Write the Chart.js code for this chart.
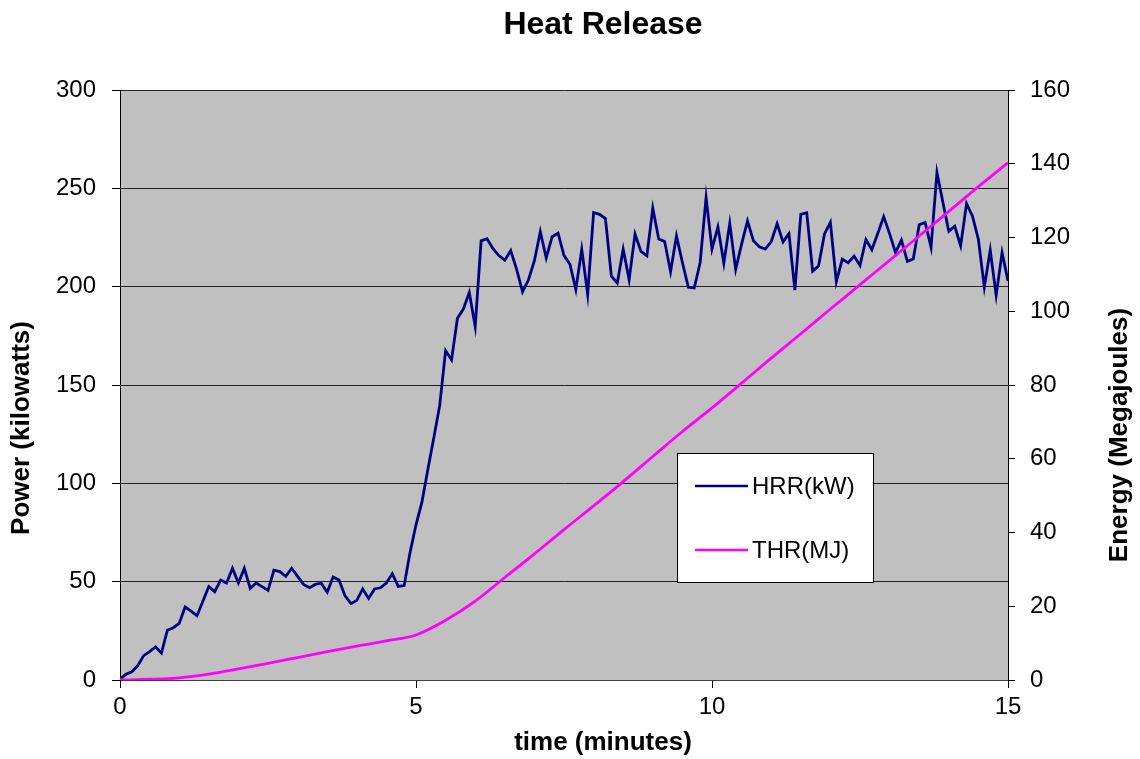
<!DOCTYPE html>
<html>
<head>
<meta charset="utf-8">
<title>Heat Release</title>
<script src="https://cdn.jsdelivr.net/npm/chart.js@4.4.0/dist/chart.umd.min.js"></script>
<style>
    html, body { margin: 0; padding: 0; background: #ffffff; }
    #wrap { width: 1140px; height: 759px; }
</style>
</head>
<body>
<div id="wrap"><canvas id="heatChart" width="1140" height="759"></canvas></div>
<script>
// Datos (tiempo en minutos)
const tiempoHRR = [
    0, 0.1, 0.2, 0.3, 0.4, 0.5, 0.6, 0.7, 0.8, 0.9,
    1, 1.1, 1.2, 1.3, 1.4, 1.5, 1.6, 1.7, 1.8, 1.9,
    2, 2.1, 2.2, 2.3, 2.4, 2.5, 2.6, 2.7, 2.8, 2.9,
    3, 3.1, 3.2, 3.3, 3.4, 3.5, 3.6, 3.7, 3.8, 3.9,
    4, 4.1, 4.2, 4.3, 4.4, 4.5, 4.6, 4.7, 4.8, 4.9,
    5, 5.1, 5.2, 5.3, 5.4, 5.5, 5.6, 5.7, 5.8, 5.9,
    6, 6.1, 6.2, 6.3, 6.4, 6.5, 6.6, 6.7, 6.8, 6.9,
    7, 7.1, 7.2, 7.3, 7.4, 7.5, 7.6, 7.7, 7.8, 7.9,
    8, 8.1, 8.2, 8.3, 8.4, 8.5, 8.6, 8.7, 8.8, 8.9,
    9, 9.1, 9.2, 9.3, 9.4, 9.5, 9.6, 9.7, 9.8, 9.9,
    10, 10.1, 10.2, 10.3, 10.4, 10.5, 10.6, 10.7, 10.8, 10.9,
    11, 11.1, 11.2, 11.3, 11.4, 11.5, 11.6, 11.7, 11.8, 11.9,
    12, 12.1, 12.2, 12.3, 12.4, 12.5, 12.6, 12.7, 12.8, 12.9,
    13, 13.1, 13.2, 13.3, 13.4, 13.5, 13.6, 13.7, 13.8, 13.9,
    14, 14.1, 14.2, 14.3, 14.4, 14.5, 14.6, 14.7, 14.8, 14.9,
    15
];

const hrrKW = [
    0.5, 2.9, 4.2, 7.3, 12.4, 14.4, 16.8, 13.7, 25.3, 26.6,
    28.8, 37.1, 35.0, 32.7, 40.0, 47.5, 44.9, 50.8, 49.3, 56.8,
    49.3, 56.8, 46.6, 49.3, 47.5, 45.6, 55.8, 55.1, 52.7, 56.8,
    52.7, 48.6, 46.9, 48.6, 49.2, 44.6, 52.4, 50.8, 42.9, 38.8,
    40.5, 46.3, 41.5, 46.3, 46.9, 49.3, 54.1, 47.6, 48.0, 64.9,
    78.9, 90.4, 107, 123, 139.5, 167.5, 162.8, 183.9, 188.6, 197,
    179.8, 223.3, 224.4, 219.3, 215.8, 213.5, 218.4, 208.8, 197.4, 203.5,
    213.2, 228, 214.6, 225.4, 227.2, 215.8, 211.4, 198.6, 219, 196.1,
    237.7, 236.8, 234.6, 205.3, 201.8, 219, 203.5, 226.7, 217.9, 215.7,
    239.9, 224.2, 223, 207.6, 225.8, 212.3, 199.7, 199.3, 212.3, 245.3,
    219.1, 230.4, 212, 232.2, 208.8, 221.6, 233.4, 223.3, 220.3, 219.1,
    222.9, 232, 222.8, 227, 198.2, 236.8, 237.6, 207.9, 210.5, 226.8,
    232.7, 202.5, 214, 212.2, 215.6, 210.8, 224, 218.8, 227, 235.6,
    227, 217.3, 223.7, 212.9, 214.1, 231.5, 232.7, 220, 258.1, 242.9,
    228.1, 230.7, 220.8, 242.2, 235.8, 224, 199.8, 218.5, 195.6, 217.3,
    202.9
];

const tiempoTHR = [
    0, 0.5, 1, 1.5, 2, 2.5, 3, 3.5, 4, 4.5,
    5, 5.5, 6, 6.5, 7, 7.5, 8, 8.5, 9, 9.5,
    10, 10.5, 11, 11.5, 12, 12.5, 13, 13.5, 14, 14.5,
    15
];

const thrMJ = [
    0, 0.2, 0.6, 1.6, 3.0, 4.5, 6.1, 7.7, 9.2, 10.6,
    12.2, 16.2, 21.4, 27.8, 34.2, 40.8, 47.2, 53.8, 60.6, 67.4,
    73.8, 80.5, 87.3, 93.9, 100.6, 107.2, 113.8, 120.4, 127.1, 133.8,
    140.3
];

const ticksTiempo = [0, 5, 10, 15];
const ticksPotencia = [0, 50, 100, 150, 200, 250, 300];
const ticksEnergia = [0, 20, 40, 60, 80, 100, 120, 140, 160];

const FUENTE = "'Liberation Sans', Arial, sans-serif";

// Fondo gris del área de trazado
const fondoGris = {
    id: 'fondoGris',
    beforeDraw(chart) {
        const { ctx, chartArea: a } = chart;
        ctx.save();
        ctx.fillStyle = '#c0c0c0';
        ctx.fillRect(a.left, a.top, a.right - a.left, a.bottom - a.top);
        ctx.restore();
    }
};

// Títulos y leyenda dibujados como en la hoja original
const textos = {
    id: 'textos',
    afterDraw(chart) {
        const ctx = chart.ctx;
        ctx.save();
        ctx.fillStyle = '#000';
        ctx.textAlign = 'center';
        ctx.textBaseline = 'middle';

        ctx.font = 'bold 32px ' + FUENTE;
        ctx.fillText('Heat Release', 603, 25);

        ctx.font = 'bold 26px ' + FUENTE;
        ctx.fillText('time (minutes)', 603, 743);

        ctx.save();
        ctx.translate(22, 428);
        ctx.rotate(-Math.PI / 2);
        ctx.fillText('Power (kilowatts)', 0, 0);
        ctx.restore();

        ctx.save();
        ctx.translate(1120, 435);
        ctx.rotate(-Math.PI / 2);
        ctx.fillText('Energy (Megajoules)', 0, 0);
        ctx.restore();

        // Leyenda
        const caja = { x: 677, y: 453, w: 196, h: 129 };
        ctx.fillStyle = '#fff';
        ctx.fillRect(caja.x, caja.y, caja.w, caja.h);
        ctx.strokeStyle = '#000';
        ctx.lineWidth = 1;
        ctx.strokeRect(caja.x + 0.5, caja.y + 0.5, caja.w, caja.h);

        ctx.font = '24px ' + FUENTE;
        ctx.textAlign = 'left';
        chart.data.datasets.forEach((ds, i) => {
            const yy = caja.y + 33 + i * 64;
            ctx.strokeStyle = ds.borderColor;
            ctx.lineWidth = 2.5;
            ctx.beginPath();
            ctx.moveTo(caja.x + 18, yy);
            ctx.lineTo(caja.x + 71, yy);
            ctx.stroke();
            ctx.fillStyle = '#000';
            ctx.fillText(ds.label, caja.x + 75, yy + 1);
        });
        ctx.restore();
    }
};

const ctx = document.getElementById('heatChart');

new Chart(ctx, {
    type: 'line',
    data: {
        datasets: [{
            label: 'HRR(kW)',
            data: tiempoHRR.map((t, i) => ({ x: t, y: hrrKW[i] })),
            borderColor: '#000080',
            borderWidth: 2.8,
            pointRadius: 0,
            tension: 0,
            yAxisID: 'y',
            order: 1
        }, {
            label: 'THR(MJ)',
            data: tiempoTHR.map((t, i) => ({ x: t, y: thrMJ[i] })),
            borderColor: '#ff00ff',
            borderWidth: 2.8,
            pointRadius: 0,
            cubicInterpolationMode: 'monotone',
            yAxisID: 'y1',
            order: 0
        }]
    },
    options: {
        responsive: false,
        animation: false,
        devicePixelRatio: 1,
        layout: { padding: { top: 90, left: 0, right: 0, bottom: 0 } },
        plugins: {
            legend: { display: false },
            title: { display: false },
            tooltip: { enabled: false }
        },
        scales: {
            x: {
                type: 'linear',
                position: 'bottom',
                min: 0,
                max: 15,
                afterBuildTicks: s => { s.ticks = ticksTiempo.map(v => ({ value: v })); },
                afterFit: s => { s.height = 79; },
                grid: { drawOnChartArea: false, tickLength: 8, tickColor: '#000' },
                border: { color: '#404040', width: 1 },
                ticks: { color: '#000', font: { family: FUENTE, size: 24 }, padding: 5, maxRotation: 0 }
            },
            y: {
                position: 'left',
                min: 0,
                max: 300,
                afterBuildTicks: s => { s.ticks = ticksPotencia.map(v => ({ value: v })); },
                afterFit: s => { s.width = 120; },
                grid: { color: '#202020', lineWidth: 1, tickLength: 8, tickColor: '#000' },
                border: { color: '#000', width: 1 },
                ticks: { color: '#000', font: { family: FUENTE, size: 24 }, padding: 16 }
            },
            y1: {
                position: 'right',
                min: 0,
                max: 160,
                afterBuildTicks: s => { s.ticks = ticksEnergia.map(v => ({ value: v })); },
                afterFit: s => { s.width = 132; },
                grid: { drawOnChartArea: false, tickLength: 7, tickColor: '#000' },
                border: { color: '#000', width: 1 },
                ticks: { color: '#000', font: { family: FUENTE, size: 24 }, padding: 15 }
            }
        }
    },
    plugins: [fondoGris, textos]
});
</script>
</body>
</html>
